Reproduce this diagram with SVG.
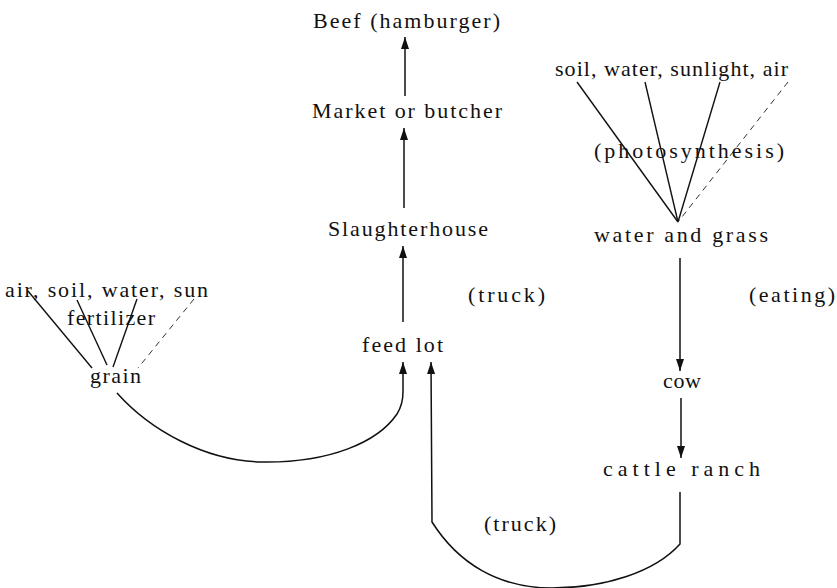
<svg xmlns="http://www.w3.org/2000/svg" width="837" height="588" viewBox="0 0 837 588">
<style>
text{font-family:"Liberation Serif","Times New Roman",serif;font-size:22px;fill:#111}
.ln{stroke:#111;stroke-width:1.4;fill:none}
.fa{stroke:#333;stroke-width:1;fill:none;stroke-dasharray:6 5}
.ar{stroke:#111;stroke-width:1.5;fill:none;marker-end:url(#ah)}
</style>
<defs>
<marker id="ah" viewBox="0 0 12 10" refX="12" refY="5" markerWidth="12" markerHeight="10" markerUnits="userSpaceOnUse" orient="auto">
<path d="M0,1 L12,5 L0,9 Z" fill="#111"/>
</marker>
</defs>
<rect width="837" height="588" fill="#fff"/>
<g id="connectors">
<line class="ar" x1="405" y1="96" x2="405" y2="37"/>
<line class="ar" x1="404" y1="208" x2="404" y2="128"/>
<line class="ar" x1="403" y1="322" x2="403" y2="246"/>
<line class="ar" x1="680" y1="258" x2="680" y2="371"/>
<line class="ar" x1="681" y1="398" x2="681" y2="458"/>
<path class="ar" d="M117,393 C150,430 205,461 262,462 C330,463 378,442 397,414 C402,406 403,400 403,392 L403,362"/>
<path class="ar" d="M680,492 L680,544 C655,572 605,588 552,588 C498,588 458,563 432,522 L431,362"/>
<line class="ln" x1="577" y1="82" x2="678" y2="222"/>
<line class="ln" x1="645" y1="82" x2="678" y2="222"/>
<line class="ln" x1="720" y1="82" x2="678" y2="222"/>
<line class="fa" x1="788" y1="82" x2="678" y2="222"/>
<line class="ln" x1="28" y1="291" x2="92" y2="368"/>
<line class="ln" x1="77" y1="300" x2="107" y2="365"/>
<line class="ln" x1="137" y1="299" x2="113" y2="367"/>
<line class="fa" x1="194" y1="299" x2="138" y2="368"/>
</g>
<g id="beef"><text x="313" y="28" textLength="187" lengthAdjust="spacing">Beef (hamburger)</text></g>
<g id="market"><text x="312" y="118" textLength="190" lengthAdjust="spacing">Market or butcher</text></g>
<g id="slaughterhouse"><text x="328" y="236" textLength="160" lengthAdjust="spacing">Slaughterhouse</text></g>
<g id="truck1"><text x="468" y="302" textLength="77" lengthAdjust="spacing">(truck)</text></g>
<g id="feedlot"><text x="362" y="352" textLength="81" lengthAdjust="spacing">feed lot</text></g>
<g id="inputs-grass"><text x="555" y="76" textLength="233" lengthAdjust="spacing">soil, water, sunlight, air</text></g>
<g id="photosynthesis"><text x="594" y="158" textLength="190" lengthAdjust="spacing">(photosynthesis)</text></g>
<g id="grass"><text x="594" y="242" textLength="174" lengthAdjust="spacing">water and grass</text></g>
<g id="eating"><text x="749" y="302" textLength="86" lengthAdjust="spacing">(eating)</text></g>
<g id="cow"><text x="663" y="388" textLength="38" lengthAdjust="spacing">cow</text></g>
<g id="ranch"><text x="603" y="476" textLength="157" lengthAdjust="spacing">cattle ranch</text></g>
<g id="truck2"><text x="484" y="531" textLength="72" lengthAdjust="spacing">(truck)</text></g>
<g id="inputs-grain"><text x="5" y="297" textLength="203" lengthAdjust="spacing">air, soil, water, sun</text></g>
<g id="fertilizer"><text x="67" y="325" textLength="88" lengthAdjust="spacing">fertilizer</text></g>
<g id="grain"><text x="90" y="383" textLength="51" lengthAdjust="spacing">grain</text></g>
</svg>
